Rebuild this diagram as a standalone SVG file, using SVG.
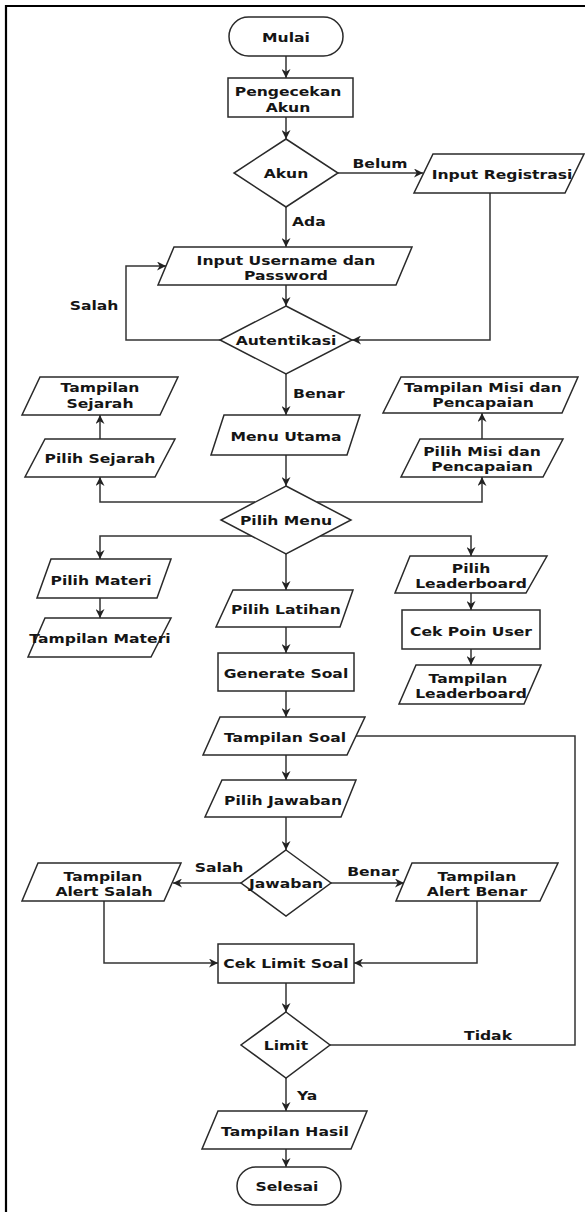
<svg xmlns="http://www.w3.org/2000/svg" width="585" height="1212" viewBox="0 0 585 1212">
<style>
.s{fill:#fff;stroke:#2a2a2a;stroke-width:1.5}
.c{fill:none;stroke:#333;stroke-width:1.5}
.a{marker-end:url(#ah)}
text{font-family:"DejaVu Sans","Verdana",sans-serif;font-weight:bold;font-size:13px;fill:#151515;text-anchor:middle}
.l{text-anchor:start}
</style>
<defs>
<marker id="ah" viewBox="0 0 10 10" markerWidth="9" markerHeight="9" refX="10" refY="5" orient="auto" markerUnits="userSpaceOnUse">
<path d="M0,0 L10,5 L0,10 L3,5 z" fill="#222"/>
</marker>
</defs>
<path d="M6,1212 V6 H585" fill="none" stroke="#000" stroke-width="2.2"/>
<g id="connectors">
<path class="c a" d="M286,56 V78"/>
<path class="c a" d="M286,117 V139"/>
<path class="c a" d="M338,173 H423"/>
<path class="c a" d="M286,207 V247"/>
<path class="c a" d="M286,285 V306"/>
<path class="c a" d="M220,340 H126 V266 H166"/>
<path class="c a" d="M490,193 V340 H352"/>
<path class="c a" d="M286,374 V415"/>
<path class="c a" d="M100,439 V415"/>
<path class="c a" d="M482,439 V413"/>
<path class="c a" d="M286,455 V486"/>
<path class="c a" d="M255,502 H100 V477"/>
<path class="c a" d="M317,502 H482 V477"/>
<path class="c a" d="M252,536 H100 V559"/>
<path class="c a" d="M320,536 H471 V556"/>
<path class="c a" d="M286,554 V590"/>
<path class="c a" d="M100,598 V618"/>
<path class="c a" d="M471,593 V610"/>
<path class="c a" d="M471,649 V665"/>
<path class="c a" d="M286,627 V653"/>
<path class="c a" d="M286,691 V717"/>
<path class="c a" d="M286,755 V780"/>
<path class="c" d="M356,736 H575 V1045 H330"/>
<path class="c a" d="M286,817 V850"/>
<path class="c a" d="M241,883 H173"/>
<path class="c a" d="M331,883 H404"/>
<path class="c a" d="M104,901 V963 H218"/>
<path class="c a" d="M477,901 V963 H354"/>
<path class="c a" d="M286,983 V1012"/>
<path class="c a" d="M286,1078 V1111"/>
<path class="c a" d="M286,1149 V1167"/>
<text transform="translate(380,168) scale(1.2,1)">Belum</text>
<text class="l" transform="translate(292,226) scale(1.2,1)">Ada</text>
<text transform="translate(94,310) scale(1.2,1)">Salah</text>
<text class="l" transform="translate(293,398) scale(1.2,1)">Benar</text>
<text transform="translate(219,872) scale(1.2,1)">Salah</text>
<text transform="translate(373,876) scale(1.2,1)">Benar</text>
<text transform="translate(488,1040) scale(1.2,1)">Tidak</text>
<text class="l" transform="translate(297,1100) scale(1.2,1)">Ya</text>
</g>
<g id="mulai"><rect class="s" x="229" y="17" width="114" height="39" rx="19.5"/><text transform="translate(286,41.5) scale(1.2,1)">Mulai</text></g>
<g id="pengecekan"><rect class="s" x="228" y="78" width="125" height="39"/><text transform="translate(288,96) scale(1.2,1)">Pengecekan</text><text transform="translate(288,112) scale(1.2,1)">Akun</text></g>
<g id="akun"><polygon class="s" points="286,139 338,173 286,207 234,173"/><text transform="translate(286,178) scale(1.2,1)">Akun</text></g>
<g id="registrasi"><polygon class="s" points="433,154 584,154 565,193 414,193"/><text transform="translate(502,179) scale(1.2,1)">Input Registrasi</text></g>
<g id="input-login"><polygon class="s" points="174,247 412,247 396,285 158,285"/><text transform="translate(286,264.5) scale(1.2,1)">Input Username dan</text><text transform="translate(286,280) scale(1.2,1)">Password</text></g>
<g id="autentikasi"><polygon class="s" points="286,306 352,340 286,374 220,340"/><text transform="translate(286,345) scale(1.2,1)">Autentikasi</text></g>
<g id="tampilan-sejarah"><polygon class="s" points="40,377 178,377 160,415 22,415"/><text transform="translate(100,392) scale(1.2,1)">Tampilan</text><text transform="translate(100,407.5) scale(1.2,1)">Sejarah</text></g>
<g id="tampilan-misi"><polygon class="s" points="401,377 578,377 562,413 383,413"/><text transform="translate(483,391.5) scale(1.2,1)">Tampilan Misi dan</text><text transform="translate(483,407) scale(1.2,1)">Pencapaian</text></g>
<g id="menu-utama"><polygon class="s" points="224,415 360,415 347,455 211,455"/><text transform="translate(286,441) scale(1.2,1)">Menu Utama</text></g>
<g id="pilih-sejarah"><polygon class="s" points="45,439 175,439 155,477 25,477"/><text transform="translate(100,463) scale(1.2,1)">Pilih Sejarah</text></g>
<g id="pilih-misi"><polygon class="s" points="420,439 563,439 543,477 401,477"/><text transform="translate(482,455.5) scale(1.2,1)">Pilih Misi dan</text><text transform="translate(482,471) scale(1.2,1)">Pencapaian</text></g>
<g id="pilih-menu"><polygon class="s" points="286,486 351,520 286,554 221,520"/><text transform="translate(286,525) scale(1.2,1)">Pilih Menu</text></g>
<g id="pilih-materi"><polygon class="s" points="51,559 171,559 157,598 37,598"/><text transform="translate(101,585) scale(1.2,1)">Pilih Materi</text></g>
<g id="tampilan-materi"><polygon class="s" points="45,618 171,618 151,657 28,657"/><text transform="translate(100,643) scale(1.2,1)">Tampilan Materi</text></g>
<g id="pilih-leaderboard"><polygon class="s" points="410,556 547,556 526,593 395,593"/><text transform="translate(471,572.5) scale(1.2,1)">Pilih</text><text transform="translate(471,588) scale(1.2,1)">Leaderboard</text></g>
<g id="cek-poin"><rect class="s" x="402" y="610" width="138" height="39"/><text transform="translate(471,636) scale(1.2,1)">Cek Poin User</text></g>
<g id="tampilan-leaderboard"><polygon class="s" points="416,665 541,665 524,704 399,704"/><text transform="translate(468,682.5) scale(1.2,1)">Tampilan</text><text transform="translate(471,698) scale(1.2,1)">Leaderboard</text></g>
<g id="pilih-latihan"><polygon class="s" points="233,590 353,590 340,627 216,627"/><text transform="translate(286,614) scale(1.2,1)">Pilih Latihan</text></g>
<g id="generate-soal"><rect class="s" x="218" y="653" width="136" height="38"/><text transform="translate(286,678) scale(1.2,1)">Generate Soal</text></g>
<g id="tampilan-soal"><polygon class="s" points="220,717 365,717 347,755 203,755"/><text transform="translate(285,742) scale(1.2,1)">Tampilan Soal</text></g>
<g id="pilih-jawaban"><polygon class="s" points="222,780 356,780 341,817 205,817"/><text transform="translate(283,805) scale(1.2,1)">Pilih Jawaban</text></g>
<g id="jawaban"><polygon class="s" points="286,850 331,883 286,916 241,883"/><text transform="translate(286,888) scale(1.2,1)">Jawaban</text></g>
<g id="alert-salah"><polygon class="s" points="38,863 181,863 164,901 22,901"/><text transform="translate(103,880.5) scale(1.2,1)">Tampilan</text><text transform="translate(104,896) scale(1.2,1)">Alert Salah</text></g>
<g id="alert-benar"><polygon class="s" points="412,863 558,863 540,901 396,901"/><text transform="translate(477,880.5) scale(1.2,1)">Tampilan</text><text transform="translate(477,896) scale(1.2,1)">Alert Benar</text></g>
<g id="cek-limit"><rect class="s" x="218" y="944" width="136" height="39"/><text transform="translate(286,968) scale(1.2,1)">Cek Limit Soal</text></g>
<g id="limit"><polygon class="s" points="286,1012 330,1045 286,1078 241,1045"/><text transform="translate(286,1050) scale(1.2,1)">Limit</text></g>
<g id="tampilan-hasil"><polygon class="s" points="218,1111 367,1111 351,1149 202,1149"/><text transform="translate(285,1136) scale(1.2,1)">Tampilan Hasil</text></g>
<g id="selesai"><rect class="s" x="237" y="1167" width="104" height="38" rx="19"/><text transform="translate(287,1191) scale(1.2,1)">Selesai</text></g>
</svg>
